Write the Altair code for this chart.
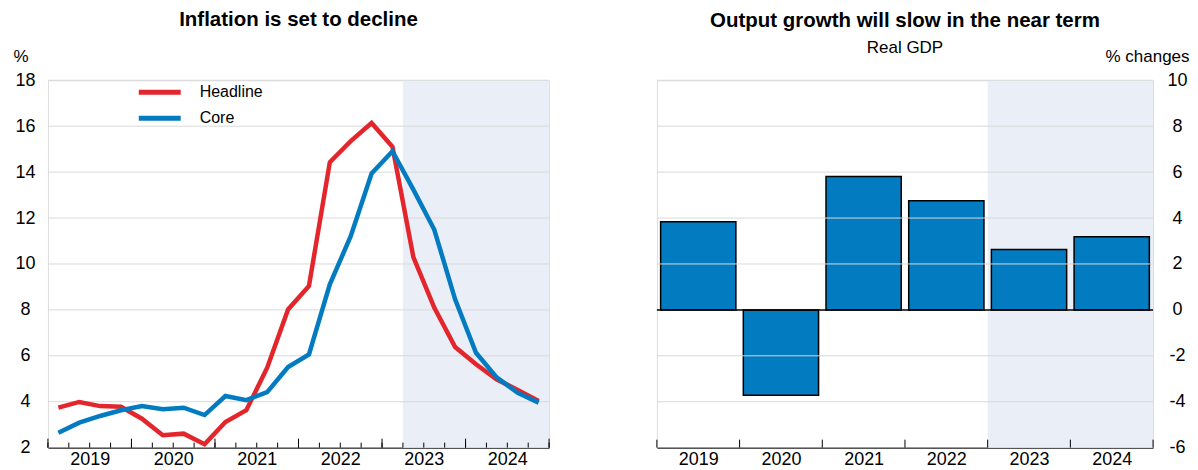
import altair as alt
import pandas as pd

# ---------------- data ----------------
years = ["2019", "2020", "2021", "2022", "2023", "2024"]
quarter_index = list(range(24))  # 2019Q1 .. 2024Q4
headline = [3.74, 3.99, 3.81, 3.78, 3.26, 2.54, 2.61, 2.15, 3.12, 3.63, 5.48, 8.02,
            9.04, 14.43, 15.35, 16.14, 15.10, 10.30, 8.10, 6.38, 5.63, 4.97, 4.51, 4.03]
core = [2.65, 3.09, 3.38, 3.63, 3.81, 3.67, 3.74, 3.42, 4.25, 4.07, 4.42, 5.51,
        6.06, 9.11, 11.21, 13.94, 14.91, 13.24, 11.50, 8.46, 6.13, 5.05, 4.39, 3.96]
gdp_growth = [3.84, -3.72, 5.81, 4.75, 2.63, 3.18]

proj_quarters = [17, 24]   # projection period, quarter boundaries
proj_years = [4, 6]        # projection period, year boundaries
left_ticks = [2, 4, 6, 8, 10, 12, 14, 16, 18]
right_ticks = [-6, -4, -2, 0, 2, 4, 6, 8, 10]
quarter_bounds = list(range(25))
year_bounds_q = [0, 4, 8, 12, 16, 20, 24]
year_bounds = [0, 1, 2, 3, 4, 5, 6]

FONT = "Liberation Sans"
RED = "#e3262c"
BLUE = "#037bc1"
SHADE = "#eaeef6"
GRID = "#d9d9d9"
WL, WR, H = 502, 497, 368

years_js = "[" + ",".join("'" + y + "'" for y in years) + "]"

# ---------------- left panel ----------------
lines_df = pd.DataFrame({
    "pos": [q + 0.5 for q in quarter_index] * 2,
    "value": headline + core,
    "series": ["Headline"] * 24 + ["Core"] * 24,
})
shade_l = pd.DataFrame({"x1": [proj_quarters[0]], "x2": [proj_quarters[1]]})
grid_l = pd.DataFrame({"v": left_ticks[1:]})
qt = pd.DataFrame({"b": quarter_bounds})
yt = pd.DataFrame({"b": year_bounds_q})

xs_l = alt.Scale(domain=[0, 24], nice=False, zero=False)
ys_l = alt.Scale(domain=[2, 18], nice=False, zero=False)
xaxis_l = alt.Axis(values=[2, 6, 10, 14, 18, 22],
                   labelExpr=years_js + "[floor(datum.value / 4)]",
                   ticks=False, grid=False, domainColor="black", domainWidth=1,
                   labelFontSize=18, labelPadding=3, labelColor="black", title=None)
yaxis_l = alt.Axis(values=left_ticks, grid=False, ticks=False, domain=False,
                   labelAlign="center", labelPadding=23, labelFontSize=18,
                   labelExpr="toString(datum.value)",
                   labelColor="black", title="%", titleAngle=0, titleAlign="left",
                   titleBaseline="alphabetic", titleX=-35, titleY=-19,
                   titleFontWeight="normal", titleFontSize=17, titleColor="black")

shade_left = alt.Chart(shade_l).mark_rect(color=SHADE).encode(
    x=alt.X("x1:Q", scale=xs_l, axis=xaxis_l), x2="x2:Q",
    y=alt.value(0), y2=alt.value(H))
grid_left = alt.Chart(grid_l).mark_rule(color=GRID, strokeWidth=1).encode(
    y=alt.Y("v:Q", scale=ys_l, axis=yaxis_l), x=alt.value(0), x2=alt.value(WL))
qticks = alt.Chart(qt).mark_rule(color="black", strokeWidth=1).encode(
    x=alt.X("b:Q", scale=xs_l, axis=xaxis_l), y=alt.value(H), y2=alt.value(H - 5))
yticks = alt.Chart(yt).mark_rule(color="black", strokeWidth=1).encode(
    x=alt.X("b:Q", scale=xs_l, axis=xaxis_l), y=alt.value(H), y2=alt.value(H - 9))
lines = alt.Chart(lines_df).mark_line(strokeWidth=4.5).encode(
    x=alt.X("pos:Q", scale=xs_l, axis=xaxis_l),
    y=alt.Y("value:Q", scale=ys_l, axis=yaxis_l),
    color=alt.Color("series:N",
                    scale=alt.Scale(domain=["Headline", "Core"], range=[RED, BLUE]),
                    legend=alt.Legend(orient="none", legendX=99, legendY=-1,
                                      direction="vertical", title=None,
                                      symbolType="M-2,0H2", symbolSize=441,
                                      symbolStrokeWidth=5, labelFontSize=16,
                                      labelOffset=27, labelFont=FONT,
                                      labelColor="black", padding=0,
                                      rowPadding=3)),
    order=alt.Order("pos:Q"),
)

left = alt.layer(shade_left, grid_left, lines, qticks, yticks).properties(
    width=WL, height=H,
    title=alt.TitleParams("Inflation is set to decline", fontSize=20.5, font=FONT,
                          fontWeight="bold", anchor="middle", frame="group",
                          color="black", offset=17),
)

# ---------------- right panel ----------------
bars_df = pd.DataFrame({"i": list(range(len(years))), "year": years, "value": gdp_growth})
shade_r = pd.DataFrame({"x1": [proj_years[0]], "x2": [proj_years[1]]})
grid_r = pd.DataFrame({"v": [t for t in right_ticks if t not in (-6, 0)]})
zero_r = pd.DataFrame({"v": [0]})
bt = pd.DataFrame({"b": year_bounds})

xs_r = alt.Scale(domain=[0, 6], nice=False, zero=False)
ys_r = alt.Scale(domain=[-6, 10], nice=False, zero=False)
xaxis_r = alt.Axis(values=[0.5, 1.5, 2.5, 3.5, 4.5, 5.5],
                   labelExpr=years_js + "[floor(datum.value)]",
                   ticks=False, grid=False, domainColor="black", domainWidth=1,
                   labelFontSize=18, labelPadding=3, labelColor="black", title=None)
yaxis_r = alt.Axis(orient="right", values=right_ticks, grid=False, ticks=False,
                   domain=False, labelAlign="center", labelPadding=24,
                   labelExpr="toString(datum.value)",
                   labelFontSize=18, labelColor="black", title="% changes",
                   titleAngle=0, titleAlign="right", titleBaseline="alphabetic",
                   titleX=36, titleY=-19, titleFontWeight="normal",
                   titleFontSize=17, titleColor="black")

shade_right = alt.Chart(shade_r).mark_rect(color=SHADE).encode(
    x=alt.X("x1:Q", scale=xs_r, axis=xaxis_r), x2="x2:Q",
    y=alt.value(0), y2=alt.value(H))
bars = alt.Chart(bars_df).transform_calculate(
    b0="datum.i + 0.045", b1="datum.i + 0.955"
).mark_bar(color=BLUE, stroke="black", strokeWidth=1.5).encode(
    x=alt.X("b0:Q", scale=xs_r, axis=xaxis_r), x2="b1:Q",
    y=alt.Y("value:Q", scale=ys_r, axis=yaxis_r), y2=alt.datum(0))
grid_right = alt.Chart(grid_r).mark_rule(color=GRID, strokeWidth=1).encode(
    y=alt.Y("v:Q", scale=ys_r, axis=yaxis_r), x=alt.value(0), x2=alt.value(WR))
zero_line = alt.Chart(zero_r).mark_rule(color="black", strokeWidth=1.5).encode(
    y=alt.Y("v:Q", scale=ys_r, axis=yaxis_r), x=alt.value(0), x2=alt.value(WR))
bticks = alt.Chart(bt).mark_rule(color="black", strokeWidth=1).encode(
    x=alt.X("b:Q", scale=xs_r, axis=xaxis_r), y=alt.value(H), y2=alt.value(H - 8))

right = alt.layer(shade_right, bars, grid_right, zero_line, bticks).properties(
    width=WR, height=H,
    title=alt.TitleParams("Output growth will slow in the near term",
                          subtitle="Real GDP", fontSize=20.5, font=FONT,
                          fontWeight="bold", anchor="middle", frame="group",
                          color="black", subtitleFont=FONT, subtitleFontSize=17,
                          subtitleColor="black", subtitlePadding=9, offset=-9),
)

chart = alt.hconcat(left, right, spacing=105).properties(
    padding={"left": 4, "top": 1, "right": 0, "bottom": 0},
    background="white",
).configure_view(stroke=None).configure(font=FONT)

chart.save("out.html", embed_options={"renderer": "svg", "actions": False})
